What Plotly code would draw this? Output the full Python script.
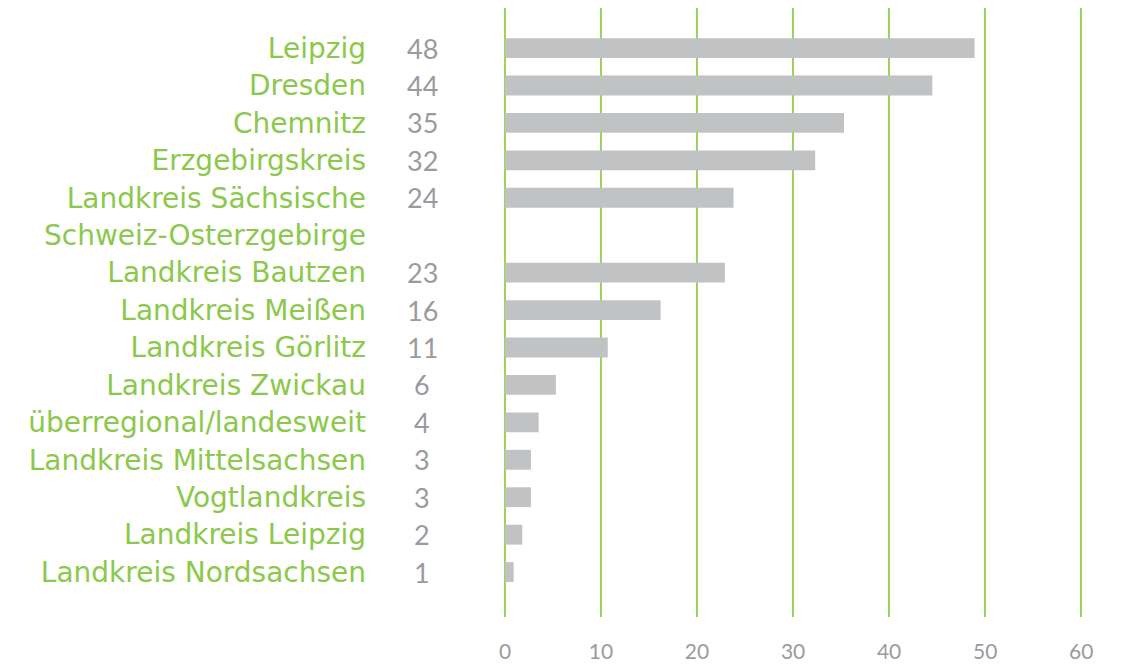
import plotly.graph_objects as go

categories = ["Leipzig", "Dresden", "Chemnitz", "Erzgebirgskreis",
              "Landkreis Sächsische", "Schweiz-Osterzgebirge",
              "Landkreis Bautzen", "Landkreis Meißen", "Landkreis Görlitz",
              "Landkreis Zwickau", "überregional/landesweit",
              "Landkreis Mittelsachsen", "Vogtlandkreis", "Landkreis Leipzig",
              "Landkreis Nordsachsen"]
bar_values = [48.9, 44.5, 35.3, 32.3, 23.8, None, 22.9, 16.2, 10.7, 5.3,
              3.5, 2.7, 2.7, 1.8, 0.9]
value_labels = ["48", "44", "35", "32", "24", "", "23", "16", "11", "6",
                "4", "3", "3", "2", "1"]
x_ticks = [0, 10, 20, 30, 40, 50, 60]

GREEN_TXT = "#8cc84b"
GREEN_GRID = "#9cd35c"
GRAY_BAR = "#c1c2c4"
GRAY_TXT = "#9b9b9f"
FONT = "Lato"
LABEL_FONT = "DejaVu Sans"

fig = go.Figure()
fig.add_trace(go.Bar(
    x=bar_values, y=categories, orientation="h",
    marker=dict(color=GRAY_BAR, line=dict(width=0)),
    width=0.53, hoverinfo="skip",
))

for cat, lab in zip(categories, value_labels):
    if lab:
        fig.add_annotation(x=0, y=cat, xref="x", yref="y", text=lab,
                           showarrow=False, xanchor="center", yanchor="middle",
                           xshift=-83,
                           font=dict(family=FONT, size=27, color=GRAY_TXT))

fig.update_layout(
    width=1132, height=665,
    margin=dict(l=497, r=30, t=0, b=56),
    paper_bgcolor="white", plot_bgcolor="white",
    showlegend=False,
    font=dict(family=FONT),
)
fig.update_xaxes(
    range=[0, 63], tickvals=x_ticks,
    showgrid=True, gridcolor=GREEN_GRID, gridwidth=1.5,
    zeroline=True, zerolinecolor=GREEN_GRID, zerolinewidth=1.5,
    showline=False, ticks="",
    ticklabelstandoff=20,
    tickfont=dict(family=FONT, size=21, color=GRAY_TXT),
)
fig.update_yaxes(
    type="category", categoryorder="array", categoryarray=categories,
    range=[15.2, -1.07],
    showgrid=False, zeroline=False, showline=False, ticks="",
    ticklabelstandoff=138,
    tickfont=dict(family=LABEL_FONT, size=28, color=GREEN_TXT),
)

fig.write_html("out.html")
